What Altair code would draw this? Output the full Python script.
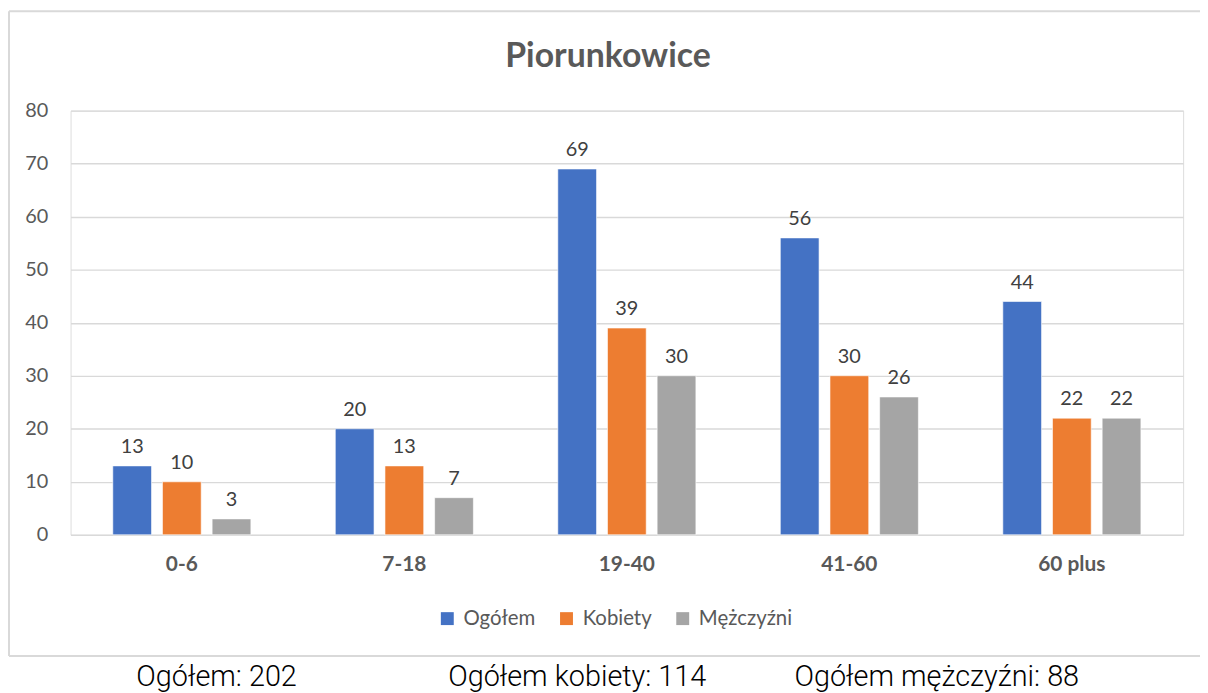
import altair as alt
import pandas as pd

categories = ["0-6", "7-18", "19-40", "41-60", "60 plus"]
series = ["Ogółem", "Kobiety", "Mężczyźni"]
ogolem = [13, 20, 69, 56, 44]
kobiety = [10, 13, 39, 30, 22]
mezczyzni = [3, 7, 30, 26, 22]
colors = ["#4472C4", "#ED7D31", "#A5A5A5"]
title_text = "Piorunkowice"
summary_texts = ["Ogółem: 202", "Ogółem kobiety: 114", "Ogółem mężczyźni: 88"]

rows = []
for s, vals in zip(series, [ogolem, kobiety, mezczyzni]):
    for c, v in zip(categories, vals):
        rows.append({"kategoria": c, "seria": s, "wartosc": v})
df = pd.DataFrame(rows)

FONT = "Lato"
GREY_TEXT = "#595959"
FRAME = "#d9d9d9"

base = alt.Chart(df).encode(
    x=alt.X(
        "kategoria:N",
        sort=categories,
        scale=alt.Scale(paddingInner=0, paddingOuter=0),
        axis=alt.Axis(
            title=None,
            labelAngle=0,
            labelFont=FONT,
            labelFontSize=21,
            labelFontWeight="bold",
            labelColor=GREY_TEXT,
            labelPadding=19,
            domain=False,
            ticks=False,
            grid=False,
        ),
    ),
    xOffset=alt.XOffset(
        "seria:N",
        sort=series,
        scale=alt.Scale(paddingInner=0.22, paddingOuter=0.85),
    ),
    y=alt.Y(
        "wartosc:Q",
        scale=alt.Scale(domain=[0, 80], nice=False),
        axis=alt.Axis(
            title=None,
            values=[0, 10, 20, 30, 40, 50, 60, 70, 80],
            labelFont=FONT,
            labelFontSize=20,
            labelColor=GREY_TEXT,
            labelPadding=23,
            domain=False,
            ticks=False,
            grid=True,
            gridColor=FRAME,
            gridWidth=1.4,
        ),
    ),
)

bars = base.mark_bar(stroke="white", strokeWidth=0.6).encode(
    color=alt.Color(
        "seria:N",
        sort=series,
        scale=alt.Scale(domain=series, range=colors),
        legend=alt.Legend(
            title=None,
            orient="none",
            legendX=369,
            legendY=501,
            direction="horizontal",
            symbolType="square",
            symbolSize=169,
            symbolStrokeWidth=0,
            labelFont=FONT,
            labelFontSize=20.5,
            labelColor=GREY_TEXT,
            labelOffset=6,
            columnPadding=21,
        ),
    )
)

labels = base.mark_text(
    baseline="bottom",
    dy=-9,
    font=FONT,
    fontSize=20,
    color="#404040",
).encode(text=alt.Text("wartosc:Q"))

one = pd.DataFrame({"a": [0]})
frame_top = alt.Chart(one).mark_rule(stroke=FRAME, strokeWidth=2).encode(
    x=alt.value(-62), x2=alt.value(1140), y=alt.value(-100)
)
frame_bottom = alt.Chart(one).mark_rule(stroke=FRAME, strokeWidth=2).encode(
    x=alt.value(-62), x2=alt.value(1140), y=alt.value(549)
)
frame_left = alt.Chart(one).mark_rule(stroke=FRAME, strokeWidth=2).encode(
    x=alt.value(-62), y=alt.value(-100), y2=alt.value(549)
)

title = alt.Chart(pd.DataFrame({"t": [title_text]})).mark_text(
    font=FONT, fontSize=34, fontWeight="bold", color=GREY_TEXT, baseline="middle"
).encode(text="t:N", x=alt.value(541), y=alt.value(-54))

summary_x = [147, 510, 872]
summary_layers = []
for txt, xp in zip(summary_texts, summary_x):
    summary_layers.append(
        alt.Chart(pd.DataFrame({"t": [txt]})).mark_text(
            font="Roboto", fontSize=29, fontWeight=300, color="#000000", baseline="middle"
        ).encode(text="t:N", x=alt.value(xp), y=alt.value(570))
    )

chart = alt.layer(
    frame_top, frame_bottom, frame_left, bars, labels, title, *summary_layers
).properties(
    width=1120,
    height=427,
    autosize=alt.AutoSizeParams(type="none"),
    padding={"left": 63, "top": 101, "right": 17, "bottom": 170},
).configure_view(stroke=None).configure(background="white")

chart.save("out.html", embed_options={"renderer": "svg", "actions": False})
